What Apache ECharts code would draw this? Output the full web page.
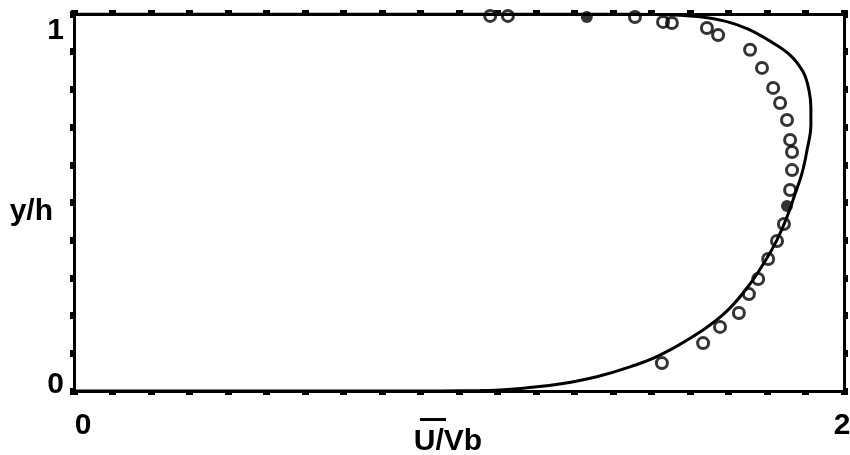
<!DOCTYPE html>
<html>
<head>
<meta charset="utf-8">
<script src="https://cdn.jsdelivr.net/npm/echarts@6/dist/echarts.min.js"></script>
<style>
  html, body { margin: 0; padding: 0; background: #fff; }
  #chart { width: 850px; height: 455px; }
</style>
</head>
<body>
<div id="chart"></div>
<script>
// Mean velocity profile across the channel height: model curve and measurements.
const curveU = [0.000, 0.850, 1.055, 1.184, 1.270, 1.358, 1.444, 1.522, 1.634, 1.699, 1.756, 1.800, 1.826, 1.852, 1.873, 1.891, 1.904, 1.914, 1.914, 1.909, 1.894, 1.860, 1.808, 1.751, 1.691, 1.626, 1.522, 1.300, 0.000];
const curveY = [0.000, 0.000, 0.001, 0.009, 0.020, 0.038, 0.064, 0.095, 0.162, 0.215, 0.284, 0.353, 0.401, 0.462, 0.523, 0.578, 0.639, 0.706, 0.751, 0.798, 0.846, 0.891, 0.928, 0.960, 0.981, 0.993, 0.999, 1.000, 1.000];

// Measured points (open circles)
const openU = [1.527, 1.634, 1.678, 1.727, 1.753, 1.777, 1.803, 1.826, 1.844, 1.860, 1.865, 1.865, 1.860, 1.852, 1.834, 1.816, 1.787, 1.756, 1.673, 1.644, 1.553, 1.530, 1.457, 1.127, 1.081];
const openY = [0.074, 0.127, 0.170, 0.207, 0.257, 0.297, 0.350, 0.398, 0.443, 0.533, 0.586, 0.634, 0.666, 0.719, 0.764, 0.804, 0.857, 0.905, 0.944, 0.963, 0.976, 0.979, 0.992, 0.995, 0.995];

// Measured points (filled circles)
const filledU = [1.852, 1.332];
const filledY = [0.491, 0.992];

const xLabels = [0, 2];
const yLabels = [0, 1];

const zip = (a, b) => a.map((v, i) => [v, b[i]]);

const font = "'Liberation Sans', Arial, sans-serif";
const frameLine = { show: true, onZero: false, lineStyle: { color: '#000', width: 3 } };
const dotTicks = { show: true, inside: false, length: 4, lineStyle: { color: '#000', width: 7 } };

const chart = echarts.init(document.getElementById('chart'), null, { renderer: 'canvas' });

chart.setOption({
  animation: false,
  backgroundColor: '#fff',
  grid: { left: 74, right: 6, top: 14, bottom: 64, containLabel: false, outerBoundsMode: 'none' },
  xAxis: [
    {
      type: 'value', position: 'bottom', min: 0, max: 2, interval: 0.1,
      axisLine: frameLine, axisTick: dotTicks, splitLine: { show: false },
      axisLabel: {
        customValues: xLabels, margin: 20, color: '#000',
        fontFamily: font, fontWeight: 'bold', fontSize: 30,
        formatter: v => v === 0 ? '{a|0}' : '{b|2}',
        rich: {
          a: { padding: [0, 0, 0, 18], fontFamily: font, fontWeight: 'bold', fontSize: 30, color: '#000' },
          b: { padding: [0, 4, 0, 0], fontFamily: font, fontWeight: 'bold', fontSize: 30, color: '#000' }
        }
      },
      name: '{ov|}{sp|}\n{t|U/Vb}',
      nameLocation: 'middle', nameGap: 27, nameMoveOverlap: false,
      nameTextStyle: {
        padding: [0, 22, 0, 0],
        rich: {
          ov: { width: 26, height: 3, backgroundColor: '#000', verticalAlign: 'top' },
          sp: { width: 30, height: 9 },
          t: { fontFamily: "'Liberation Sans Narrow', 'Liberation Sans', Arial, sans-serif", fontWeight: 'bold', fontSize: 30, color: '#000' }
        }
      }
    },
    {
      type: 'value', position: 'top', min: 0, max: 2, interval: 0.1,
      axisLine: frameLine, axisTick: dotTicks, axisLabel: { show: false }, splitLine: { show: false }
    }
  ],
  yAxis: [
    {
      type: 'value', position: 'left', min: 0, max: 1, interval: 0.1,
      axisLine: frameLine, axisTick: dotTicks, splitLine: { show: false },
      axisLabel: {
        customValues: yLabels, margin: 10, color: '#000',
        fontFamily: font, fontWeight: 'bold', fontSize: 30,
        formatter: v => v === 1 ? '{one|1}' : '{zero|0}',
        rich: {
          one: { padding: [34, 0, 0, 0], fontFamily: font, fontWeight: 'bold', fontSize: 30, color: '#000' },
          zero: { padding: [0, 0, 12, 0], fontFamily: font, fontWeight: 'bold', fontSize: 30, color: '#000' }
        }
      },
      name: '{n|y/h}', nameLocation: 'middle', nameRotate: 0, nameGap: 21, nameMoveOverlap: false,
      nameTextStyle: {
        rich: {
          n: { padding: [18, 0, 0, 0], fontFamily: font, fontWeight: 'bold', fontSize: 30, color: '#000' }
        }
      }
    },
    {
      type: 'value', position: 'right', min: 0, max: 1, interval: 0.1,
      axisLine: frameLine, axisTick: dotTicks, axisLabel: { show: false }, splitLine: { show: false }
    }
  ],
  series: [
    {
      type: 'line', xAxisIndex: 0, yAxisIndex: 0,
      data: zip(curveU, curveY), smooth: 0.4, showSymbol: false,
      lineStyle: { color: '#000', width: 3 }, z: 2
    },
    {
      type: 'scatter', xAxisIndex: 0, yAxisIndex: 0,
      data: zip(openU, openY), symbol: 'circle', symbolSize: 11,
      itemStyle: { color: 'rgba(0,0,0,0)', borderColor: '#000', borderWidth: 3 }, z: 3
    },
    {
      type: 'scatter', xAxisIndex: 0, yAxisIndex: 0,
      data: zip(filledU, filledY), symbol: 'circle', symbolSize: 12,
      itemStyle: { color: '#000' }, z: 3
    }
  ]
});
</script>
</body>
</html>
